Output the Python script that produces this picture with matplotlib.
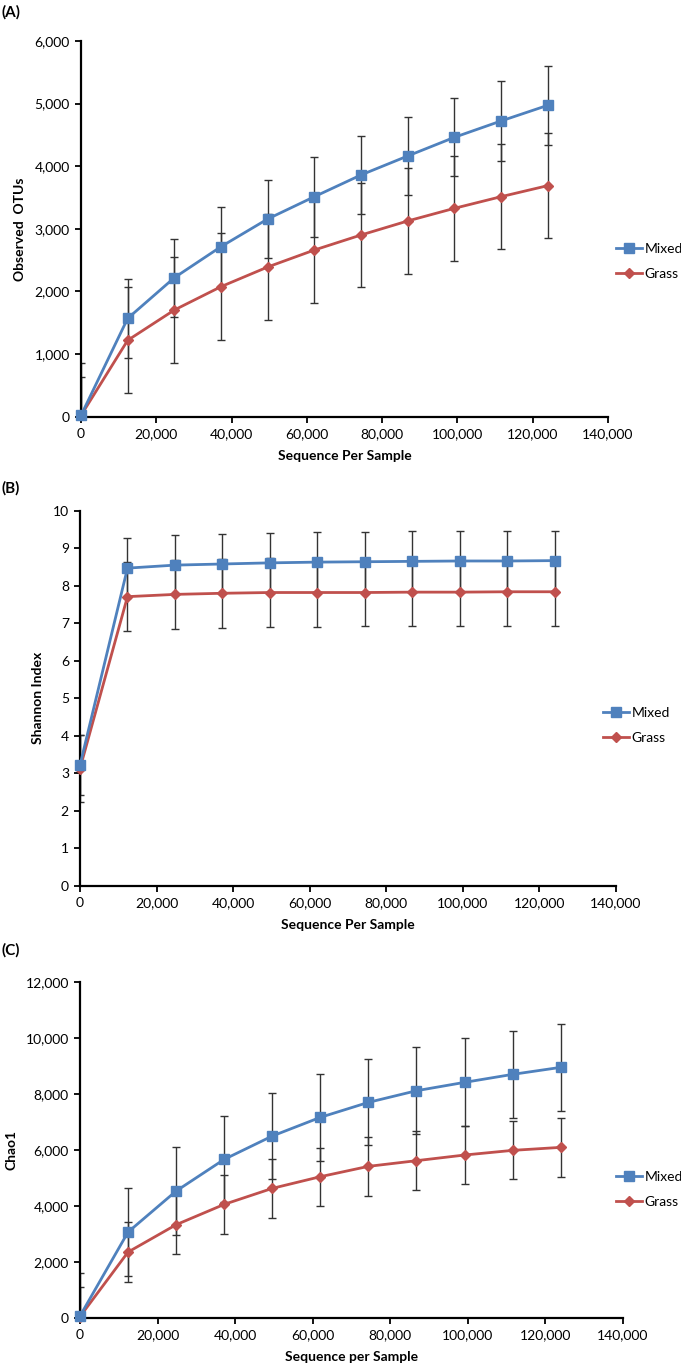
import matplotlib
matplotlib.use("Agg")
import matplotlib.pyplot as plt
from matplotlib.lines import Line2D
from matplotlib.ticker import FuncFormatter, MultipleLocator

plt.rcParams['font.family'] = ['Lato', 'DejaVu Sans']

# sequences per sample (rarefaction depth)
seq = [0, 12400, 24800, 37200, 49600, 62000, 74400, 86800, 99200, 111600, 124000]

# (A) observed OTUs
otu_mixed = [20, 1570, 2220, 2716, 3158, 3514, 3861, 4164, 4462, 4723, 4973]
otu_mixed_err = [620, 635, 623, 628, 623, 639, 628, 623, 623, 634, 634]
otu_grass = [20, 1220, 1704, 2077, 2391, 2662, 2902, 3126, 3328, 3514, 3690]
otu_grass_err = [840, 845, 847, 852, 852, 852, 836, 847, 841, 841, 841]

# (B) Shannon index
sh_mixed = [3.22, 8.47, 8.55, 8.58, 8.61, 8.63, 8.64, 8.65, 8.66, 8.66, 8.67]
sh_mixed_err = [0.80, 0.79, 0.79, 0.80, 0.80, 0.79, 0.80, 0.80, 0.80, 0.80, 0.80]
sh_grass = [3.13, 7.71, 7.77, 7.80, 7.82, 7.82, 7.82, 7.83, 7.83, 7.84, 7.84]
sh_grass_err = [0.90, 0.92, 0.92, 0.92, 0.92, 0.91, 0.90, 0.90, 0.90, 0.90, 0.90]

# (C) Chao1
chao_mixed = [60, 3065, 4532, 5665, 6500, 7168, 7704, 8121, 8420, 8706, 8957]
chao_mixed_err = [1550, 1586, 1562, 1538, 1551, 1551, 1539, 1563, 1574, 1550, 1562]
chao_grass = [40, 2349, 3327, 4055, 4627, 5045, 5415, 5618, 5820, 5987, 6094]
chao_grass_err = [1060, 1061, 1049, 1050, 1049, 1038, 1062, 1050, 1049, 1038, 1049]

blue = '#4F81BD'
red = '#C0504D'
W, H = 681, 1370

fig = plt.figure(figsize=(W / 100, H / 100), dpi=100)

panels = [
    # label, rect (px: left, top, right, bottom), y data, ylabel, xlabel, ymax, ystep, label y, legend pos (px)
    ('(A)', (81, 41, 608, 416.7), otu_mixed, otu_mixed_err, otu_grass, otu_grass_err,
     'Observed  OTUs', 'Sequence Per Sample', 6000, 1000, 12, (616, 248)),
    ('(B)', (80, 510.7, 616, 886), sh_mixed, sh_mixed_err, sh_grass, sh_grass_err,
     'Shannon Index', 'Sequence Per Sample', 10, 1, 488, (603, 712)),
    ('(C)', (80, 982.3, 622.7, 1317.7), chao_mixed, chao_mixed_err, chao_grass, chao_grass_err,
     'Chao1', 'Sequence per Sample', 12000, 2000, 950, (616, 1176)),
]

comma = FuncFormatter(lambda v, p: '{:,.0f}'.format(v))

for (lab, (l, t, r, b), ym, yme, yg, yge, ylab, xlab, ymax, ystep, laby, (lgx, lgy)) in panels:
    ax = fig.add_axes([l / W, 1 - b / H, (r - l) / W, (b - t) / H])

    ax.errorbar(seq, ym, yerr=yme, fmt='none', ecolor='#333333', elinewidth=1.0,
                capsize=3, capthick=1.0, zorder=2)
    ax.errorbar(seq, yg, yerr=yge, fmt='none', ecolor='#333333', elinewidth=1.0,
                capsize=3, capthick=1.0, zorder=2)
    ax.plot(seq, ym, color=blue, lw=2.0, marker='s', ms=7, mec=blue, clip_on=False, zorder=4)
    ax.plot(seq, yg, color=red, lw=2.0, marker='D', ms=5, mec=red, clip_on=False, zorder=3)

    ax.set_xlim(0, 140000)
    ax.set_ylim(0, ymax)
    ax.xaxis.set_major_locator(MultipleLocator(20000))
    ax.yaxis.set_major_locator(MultipleLocator(ystep))
    ax.xaxis.set_major_formatter(comma)
    if ymax > 100:
        ax.yaxis.set_major_formatter(comma)

    for s in ['top', 'right']:
        ax.spines[s].set_visible(False)
    for s in ['left', 'bottom']:
        ax.spines[s].set_linewidth(1.6)
        ax.spines[s].set_color('black')
    ax.tick_params(direction='out', length=4, width=1.3, labelsize=10, pad=4)

    ax.set_ylabel(ylab, fontsize=10, fontweight='bold', labelpad=6)
    ax.set_xlabel(xlab, fontsize=10, fontweight='bold', labelpad=7)

    fig.text(2 / W, 1 - laby / H, lab, fontsize=11, fontweight='bold', va='center', ha='left')

    handles = [Line2D([], [], color=blue, lw=2.0, marker='s', ms=7),
               Line2D([], [], color=red, lw=2.0, marker='D', ms=5)]
    fig.legend(handles, ['Mixed', 'Grass'], loc='upper left', frameon=False,
               bbox_to_anchor=(lgx / W, 1 - (lgy - 5) / H), fontsize=10,
               handlelength=1.9, handletextpad=0.15, labelspacing=0.9,
               borderaxespad=0, borderpad=0)

fig.savefig('out.png', dpi=100)
